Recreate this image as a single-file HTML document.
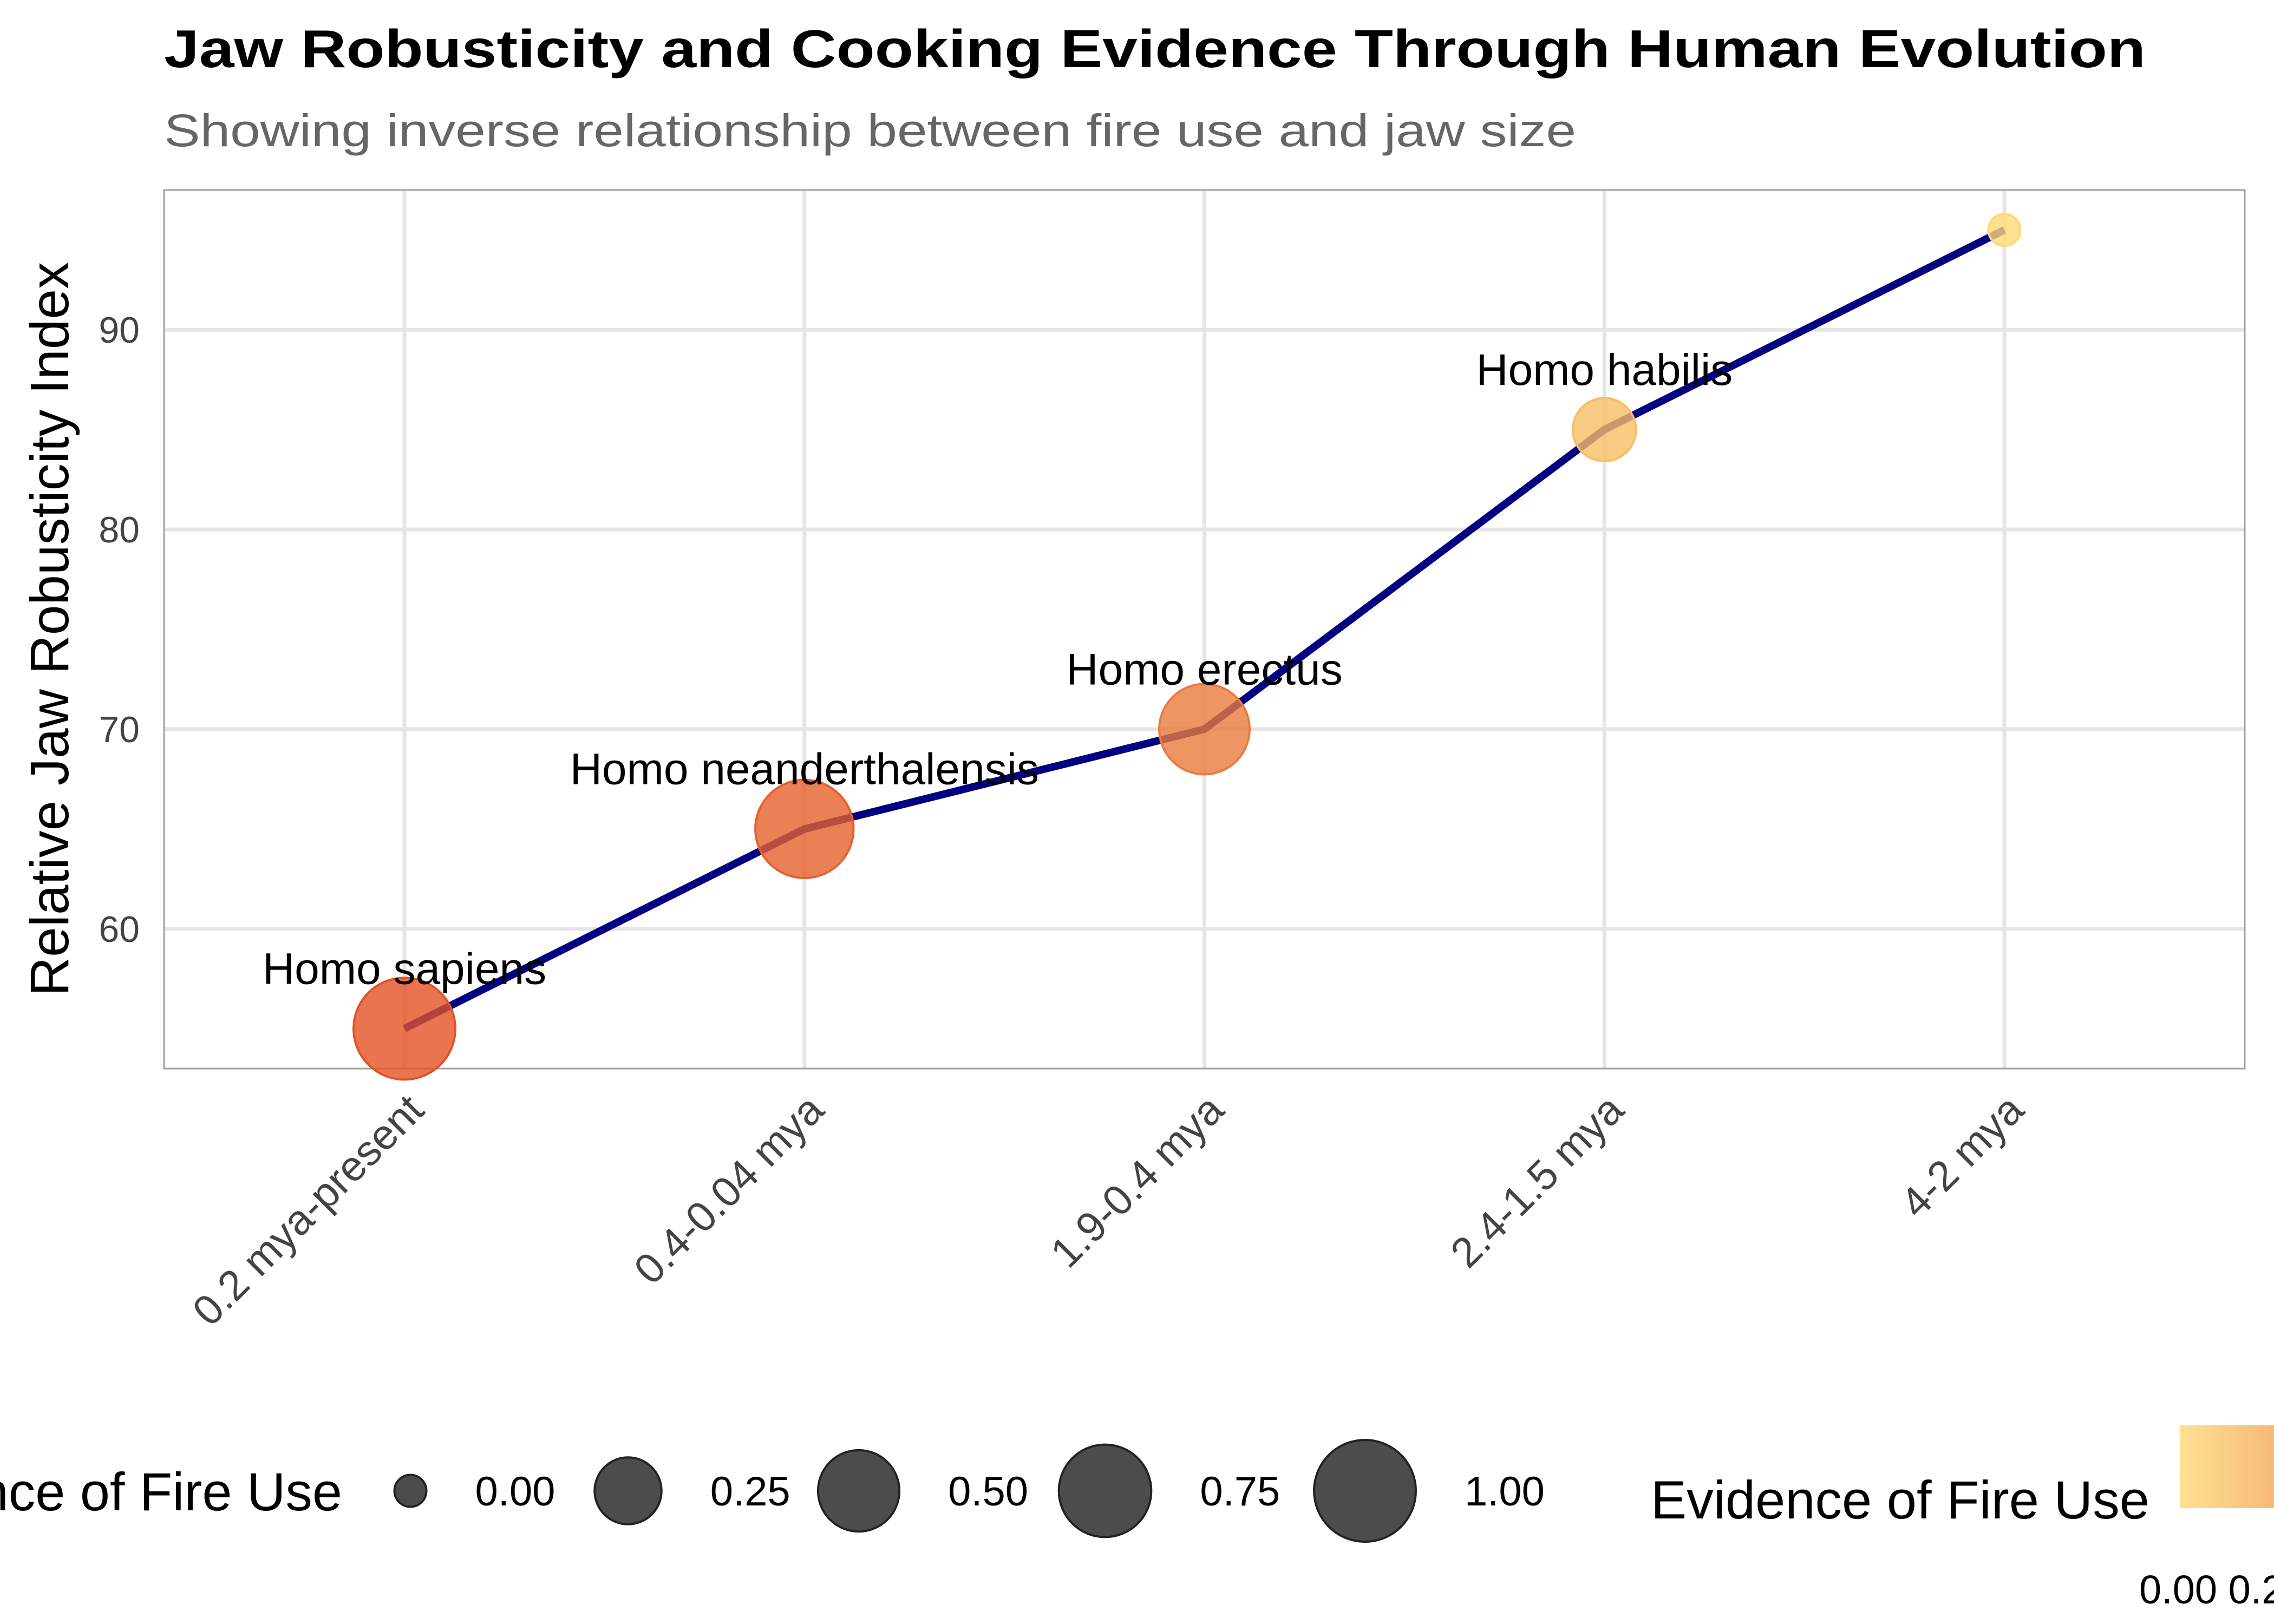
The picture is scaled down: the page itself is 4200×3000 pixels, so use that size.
<!DOCTYPE html>
<html><head><meta charset="utf-8"><style>
html,body{margin:0;padding:0;background:#fff;}
svg{display:block;font-family:"Liberation Sans",Arial,sans-serif;}
</style></head><body>
<svg id="chart" width="4200" height="3000" viewBox="0 0 4200 3000" xmlns="http://www.w3.org/2000/svg">
<defs>
<linearGradient id="cbgrad" x1="0" x2="1" y1="0" y2="0">
<stop offset="0" stop-color="#FED976" stop-opacity="0.8"/>
<stop offset="1" stop-color="#E25224" stop-opacity="0.8"/>
</linearGradient>
</defs>
<text x="303" y="124" font-size="98" font-weight="bold" fill="#000" textLength="3660" lengthAdjust="spacingAndGlyphs">Jaw Robusticity and Cooking Evidence Through Human Evolution</text>
<text x="303" y="270" font-size="84" fill="#666" textLength="2608" lengthAdjust="spacingAndGlyphs">Showing inverse relationship between fire use and jaw size</text>
<g id="grid"></g>
<rect x="303" y="351" width="3843" height="1623" fill="none" stroke="#a0a0a0" stroke-width="3"/>
<g id="yticks"></g>
<g id="xticks"></g>
<text transform="translate(126,1162) rotate(-90)" text-anchor="middle" font-size="100" fill="#000">Relative Jaw Robusticity Index</text>
<g id="marks"></g>
<g id="legend"></g>
<g>
<text x="3049" y="2805" font-size="99" fill="#000" textLength="921" lengthAdjust="spacingAndGlyphs">Evidence of Fire Use</text>
<rect x="4026" y="2633" width="480" height="153" fill="url(#cbgrad)"/>
<text x="3951" y="2962" font-size="74" fill="#000">0.00 0.25</text>
</g>
</svg>
<script>
const categories = ["0.2 mya-present","0.4-0.04 mya","1.9-0.4 mya","2.4-1.5 mya","4-2 mya"];
const species = ["Homo sapiens","Homo neanderthalensis","Homo erectus","Homo habilis",""];
const jawValues = [55,65,70,85,95];
const fireValues = [1.0,0.9,0.7,0.2,0.0];
const yTicks = [60,70,80,90];
const legendValues = [0,0.25,0.5,0.75,1];
const legendLabels = ["0.00","0.25","0.50","0.75","1.00"];

const NS="http://www.w3.org/2000/svg";
const px0=303, px1=4146, py0=351, py1=1974;
const ymin=53, ymax=97;
function yScale(v){return py1-(v-ymin)/(ymax-ymin)*(py1-py0);}
function xScale(i){return 747+i*(3702-747)/(categories.length-1);}
function rScale(v){return 29.5+64.5*Math.sqrt(Math.max(0,v));}
function col(v){const a=[254,217,118],b=[226,82,36];return "rgb("+a.map((c,k)=>Math.round(c+(b[k]-c)*v)).join(",")+")";}
function mk(tag,attrs,parent){const e=document.createElementNS(NS,tag);for(const k in attrs)e.setAttribute(k,attrs[k]);parent.appendChild(e);return e;}

const grid=document.getElementById('grid');
yTicks.forEach(t=>{
  const l=mk('line',{x1:px0,x2:px1,y1:yScale(t),y2:yScale(t),stroke:'#e5e5e5','stroke-width':7},grid);
  
  
});
categories.forEach((c,i)=>{
  const l=mk('line',{x1:xScale(i),x2:xScale(i),y1:py0,y2:py1,stroke:'#e5e5e5','stroke-width':7},grid);
  
  
});
const yt=document.getElementById('yticks');
yTicks.forEach(t=>{
  const e=mk('text',{x:258,y:yScale(t)+24,'text-anchor':'end','font-size':68,fill:'#444'},yt);
  e.textContent=t;
  
  
});
const xt=document.getElementById('xticks');
categories.forEach((c,i)=>{
  const x=xScale(i)+40, y=2055;
  const e=mk('text',{transform:`translate(${x},${y}) rotate(-45)`,'text-anchor':'end','font-size':78,fill:'#444'},xt);
  e.textContent=c;
  
  
});
const marks=document.getElementById('marks');
const pts=jawValues.map((v,i)=>xScale(i)+','+yScale(v)).join(' ');
const line=mk('polyline',{points:pts,fill:'none',stroke:'#000080','stroke-width':14,'stroke-linejoin':'round'},marks);


jawValues.forEach((v,i)=>{
  const c=mk('circle',{cx:xScale(i),cy:yScale(v),r:rScale(fireValues[i]),fill:col(fireValues[i]),'fill-opacity':0.8,stroke:col(fireValues[i]),'stroke-width':4},marks);
  
  
  if(species[i]){
    const t=mk('text',{x:xScale(i),y:yScale(v+3)+28,'text-anchor':'middle','font-size':82,fill:'#000'},marks);
    t.textContent=species[i];
    
    
  }
});
const lg=document.getElementById('legend');
const lt=mk('text',{x:632,y:2790,'text-anchor':'end','font-size':99,fill:'#000'},lg);
lt.textContent="Evidence of Fire Use";


const lx=[758,1160,1586,2041,2521];
legendValues.forEach((v,i)=>{
  const c=mk('circle',{cx:lx[i],cy:2754,r:rScale(v),fill:'#333','fill-opacity':0.88,stroke:'#222','stroke-width':4},lg);
  
  
  const t=mk('text',{x:lx[i]+rScale(v)+90,y:2781,'font-size':76,fill:'#000'},lg);
  t.textContent=legendLabels[i];
  
  
});
</script>
</body></html>
